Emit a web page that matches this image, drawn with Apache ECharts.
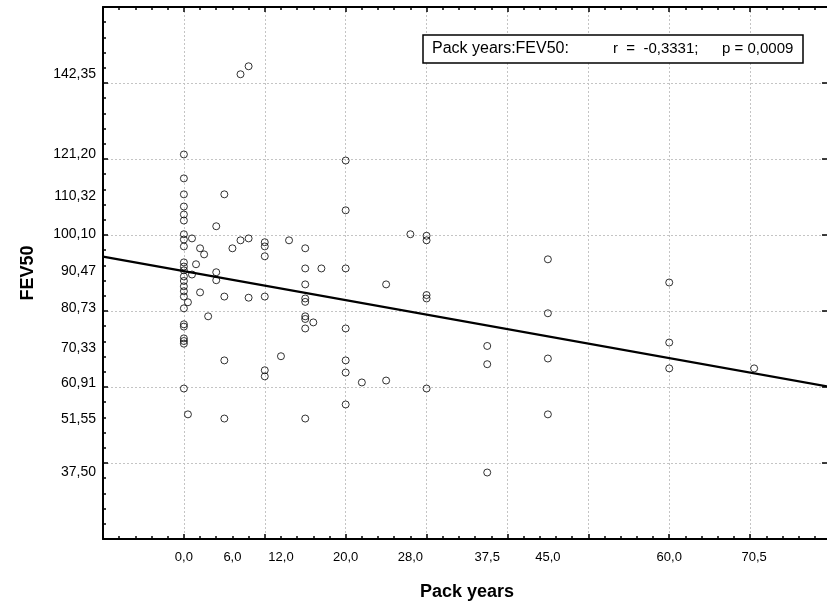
<!DOCTYPE html>
<html>
<head>
<meta charset="utf-8">
<script src="https://cdn.jsdelivr.net/npm/echarts@6/dist/echarts.min.js"></script>
<style>
html,body{margin:0;padding:0;background:#fff;}
#chart{width:827px;height:606px;}
</style>
</head>
<body>
<div id="chart"></div>
<script>
// Pack years (x) and FEV50 (y) for each subject
const packYears = [
  0,0,0,0,0,0,0,0,0,0,0,0,0,0,0,0,0,0,0,0,0,0,0,0,
  0.5,0.5,1,1,1.5,2,2,2.5,3,4,4,4,5,5,5,5,6,7,7,8,8,8,
  10,10,10,10,10,10,12,13,
  15,15,15,15,15,15,15,15,15,16,17,
  20,20,20,20,20,20,20,22,25,25,28,
  30,30,30,30,30,37.5,37.5,37.5,
  45,45,45,45,60,60,60,70.5
];
const fev50 = [
  121.2,114.9,110.7,107.5,105.4,103.8,100.2,98.8,97.0,92.8,91.7,90.7,89.1,87.9,86.5,85.2,83.8,80.7,76.5,75.9,72.8,72.1,71.4,59.6,
  82.3,52.8,99.1,89.6,92.3,96.5,84.9,94.9,78.6,102.3,90.2,88.1,110.7,83.8,67.0,51.7,96.5,98.6,142.3,144.4,99.1,83.5,
  98.1,97.0,94.4,83.8,64.4,62.8,68.1,98.6,
  96.5,91.2,87.0,83.3,82.4,78.6,77.9,75.4,51.7,77.0,91.2,
  119.6,106.5,91.2,75.4,67.0,63.8,55.4,61.2,87.0,61.7,100.2,
  99.8,98.6,84.2,83.3,59.6,70.8,66.0,37.5,
  93.6,79.4,67.5,52.8,87.5,71.7,64.9,64.9
];
// Regression line end points
const fitX = [-10, 80];
const fitY = [94.3, 60.0];
// Tick label values
const xLabelValues = [0, 6, 12, 20, 28, 37.5, 45, 60, 70.5];
const yLabelValues = [142.35, 121.20, 110.32, 100.10, 90.47, 80.73, 70.33, 60.91, 51.55, 37.50];
const statText1 = 'Pack years:FEV50:';
const statText2 = 'r  =  -0,3331;';
const statText3 = 'p = 0,0009';

const FONT = "'Liberation Sans', Arial, sans-serif";
const scatterData = packYears.map((x, i) => [x, fev50[i]]);
const fitData = fitX.map((x, i) => [x, fitY[i]]);

const chart = echarts.init(document.getElementById('chart'), null, {renderer: 'canvas'});
const gridDash = {type: [2, 2], color: '#c4c4c4', width: 1};
const axisLineStyle = {show: true, onZero: false, lineStyle: {color: '#000', width: 2}};

chart.setOption({
  animation: false,
  backgroundColor: '#fff',
  grid: {left: 103, top: 7, width: 728, height: 532, containLabel: false, outerBoundsMode: 'none'},
  xAxis: [{
    type: 'value', min: -10, max: 80, interval: 10, position: 'bottom',
    axisLine: axisLineStyle,
    axisTick: {show: true, inside: true, length: 5, lineStyle: {color: '#000', width: 1.5}},
    minorTick: {show: true, splitNumber: 5, length: 3, lineStyle: {color: '#000', width: 1.5}},
    axisLabel: {
      customValues: xLabelValues,
      formatter: v => v.toFixed(1).replace('.', ','),
      color: '#000', fontSize: 13, fontFamily: FONT, margin: 12
    },
    splitLine: {show: true, lineStyle: gridDash},
    name: 'Pack years', nameLocation: 'middle', nameGap: 44,
    nameTextStyle: {color: '#000', fontSize: 18, fontWeight: 'bold', fontFamily: FONT}
  }, {
    type: 'value', min: -10, max: 80, interval: 10, position: 'top',
    axisLine: axisLineStyle,
    axisTick: {show: true, inside: true, length: 5, lineStyle: {color: '#000', width: 1.5}},
    minorTick: {show: true, splitNumber: 5, length: 3, lineStyle: {color: '#000', width: 1.5}},
    axisLabel: {show: false},
    splitLine: {show: false}
  }],
  yAxis: [{
    type: 'value', min: 20, max: 160, interval: 20, position: 'left',
    axisLine: axisLineStyle,
    axisTick: {show: true, inside: true, length: 5, lineStyle: {color: '#000', width: 1.5}},
    minorTick: {show: true, splitNumber: 5, length: 3, lineStyle: {color: '#000', width: 1.5}},
    axisLabel: {
      customValues: yLabelValues,
      formatter: v => v.toFixed(2).replace('.', ','),
      color: '#000', fontSize: 14, fontFamily: FONT, margin: 7
    },
    splitLine: {show: true, lineStyle: gridDash},
    name: 'FEV50', nameLocation: 'middle', nameGap: 66, nameRotate: 90,
    nameTextStyle: {color: '#000', fontSize: 18, fontWeight: 'bold', fontFamily: FONT}
  }, {
    type: 'value', min: 20, max: 160, interval: 20, position: 'right',
    axisLine: axisLineStyle,
    axisTick: {show: true, inside: true, length: 9, lineStyle: {color: '#000', width: 1.5}},
    axisLabel: {show: false},
    splitLine: {show: false}
  }],
  series: [{
    type: 'scatter',
    xAxisIndex: 0, yAxisIndex: 0,
    data: scatterData,
    symbol: 'circle', symbolSize: 7,
    itemStyle: {color: 'rgba(255,255,255,0)', borderColor: '#000', borderWidth: 1},
    z: 3
  }, {
    type: 'line',
    xAxisIndex: 0, yAxisIndex: 0,
    data: fitData,
    symbol: 'none',
    lineStyle: {color: '#000', width: 2.2},
    z: 4
  }],
  graphic: [{
    type: 'rect', z: 100,
    shape: {x: 423, y: 35, width: 380, height: 28},
    style: {fill: '#fff', stroke: '#000', lineWidth: 1.5}
  }, {
    type: 'text', z: 101, x: 432, y: 49,
    style: {text: statText1, fill: '#000', font: '16px ' + FONT, textVerticalAlign: 'middle', textAlign: 'left'}
  }, {
    type: 'text', z: 101, x: 613, y: 49,
    style: {text: statText2, fill: '#000', font: '15px ' + FONT, textVerticalAlign: 'middle', textAlign: 'left'}
  }, {
    type: 'text', z: 101, x: 722, y: 49,
    style: {text: statText3, fill: '#000', font: '15px ' + FONT, textVerticalAlign: 'middle', textAlign: 'left'}
  }]
});
</script>
</body>
</html>
